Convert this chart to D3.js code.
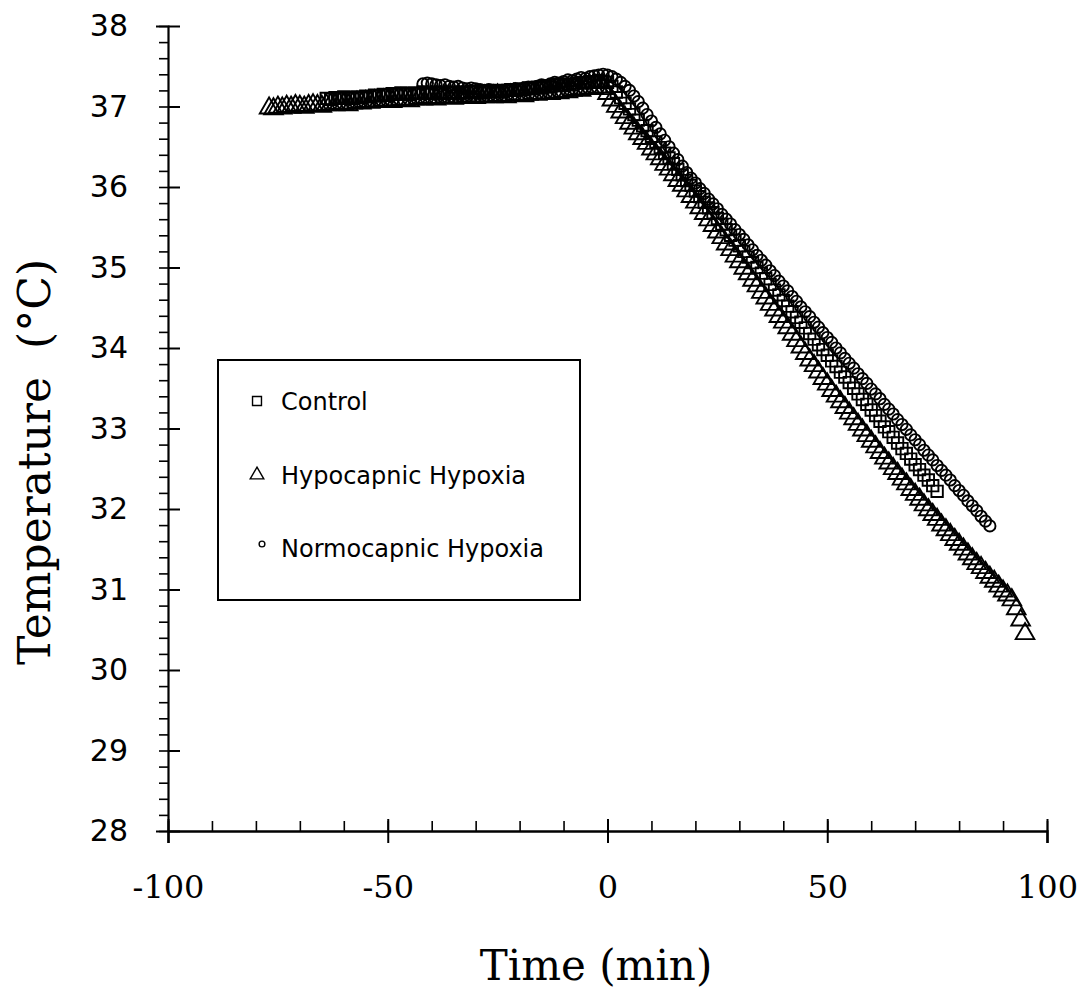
<!DOCTYPE html>
<html>
<head>
<meta charset="utf-8">
<script src="https://cdn.jsdelivr.net/npm/d3@7"></script>
<style>
    body { margin: 0; background: #fff; }
    .tick text { fill: #000; }
</style>
</head>
<body>
<div class="d3-container"></div>
<script>
// series: start minute, then one reading per minute
var controlStart = -64;
var controlTemp = [
    37.10, 37.09, 37.11, 37.10, 37.12, 37.11, 37.10, 37.12, 37.11, 37.13,
    37.12, 37.14, 37.13, 37.15, 37.14, 37.16, 37.15, 37.17, 37.16, 37.15,
    37.17, 37.16, 37.18, 37.17, 37.16, 37.18, 37.17, 37.16, 37.18, 37.17,
    37.16, 37.18, 37.17, 37.19, 37.18, 37.17, 37.19, 37.18, 37.20, 37.19,
    37.18, 37.20, 37.21, 37.20, 37.22, 37.21, 37.23, 37.22, 37.24, 37.23,
    37.25, 37.24, 37.26, 37.27, 37.26, 37.28, 37.27, 37.29, 37.30, 37.29,
    37.31, 37.30, 37.32, 37.31, 37.30, 37.25, 37.18, 37.11, 37.04, 36.97,
    36.90, 36.83, 36.76, 36.70, 36.63, 36.56, 36.49, 36.42, 36.36, 36.29,
    36.22, 36.15, 36.08, 36.02, 35.95, 35.88, 35.81, 35.74, 35.68, 35.61,
    35.54, 35.47, 35.40, 35.34, 35.27, 35.20, 35.13, 35.06, 35.00, 34.93,
    34.86, 34.79, 34.72, 34.66, 34.59, 34.52, 34.45, 34.38, 34.32, 34.25,
    34.18, 34.11, 34.04, 33.98, 33.91, 33.84, 33.77, 33.70, 33.64, 33.57,
    33.50, 33.43, 33.36, 33.30, 33.23, 33.16, 33.09, 33.02, 32.96, 32.89,
    32.82, 32.75, 32.69, 32.62, 32.55, 32.49, 32.42, 32.36, 32.29, 32.22
];

var hypocapnicStart = -77;
var hypocapnicTemp = [
    36.98, 36.97, 36.99, 36.98, 37.00, 36.99, 37.01, 37.00, 36.99, 37.01,
    37.02, 37.01, 37.00, 37.02, 37.03, 37.02, 37.04, 37.03, 37.02, 37.04,
    37.05, 37.04, 37.06, 37.05, 37.07, 37.06, 37.08, 37.07, 37.06, 37.08,
    37.09, 37.08, 37.07, 37.09, 37.10, 37.09, 37.11, 37.10, 37.09, 37.11,
    37.12, 37.11, 37.10, 37.12, 37.11, 37.13, 37.12, 37.11, 37.13, 37.12,
    37.13, 37.12, 37.14, 37.13, 37.12, 37.14, 37.15, 37.14, 37.13, 37.15,
    37.16, 37.15, 37.16, 37.17, 37.16, 37.18, 37.17, 37.19, 37.18, 37.20,
    37.21, 37.20, 37.22, 37.23, 37.22, 37.24, 37.22, 37.16, 37.08, 37.00,
    36.93, 36.86, 36.79, 36.73, 36.66, 36.60, 36.54, 36.47, 36.41, 36.35,
    36.28, 36.22, 36.15, 36.08, 36.02, 35.95, 35.88, 35.81, 35.74, 35.67,
    35.59, 35.52, 35.44, 35.37, 35.29, 35.22, 35.14, 35.07, 34.99, 34.92,
    34.84, 34.77, 34.69, 34.62, 34.54, 34.47, 34.39, 34.32, 34.25, 34.17,
    34.09, 34.01, 33.93, 33.85, 33.78, 33.70, 33.62, 33.55, 33.47, 33.40,
    33.33, 33.26, 33.19, 33.12, 33.05, 32.98, 32.91, 32.84, 32.77, 32.70,
    32.63, 32.57, 32.50, 32.44, 32.37, 32.31, 32.24, 32.18, 32.12, 32.05,
    31.99, 31.93, 31.87, 31.80, 31.74, 31.68, 31.62, 31.56, 31.50, 31.44,
    31.38, 31.32, 31.27, 31.21, 31.15, 31.10, 31.04, 30.98, 30.93, 30.87,
    30.76, 30.62, 30.45
];

var normocapnicStart = -42;
var normocapnicTemp = [
    37.28, 37.29, 37.28, 37.27, 37.26, 37.27, 37.25, 37.24, 37.25, 37.23,
    37.22, 37.23, 37.22, 37.21, 37.20, 37.21, 37.20, 37.19, 37.20, 37.21,
    37.20, 37.22, 37.21, 37.23, 37.24, 37.23, 37.25, 37.27, 37.26, 37.28,
    37.30, 37.29, 37.31, 37.33, 37.32, 37.34, 37.36, 37.35, 37.37, 37.38,
    37.39, 37.40, 37.39, 37.37, 37.34, 37.30, 37.25, 37.20, 37.13, 37.06,
    36.98, 36.90, 36.82, 36.74, 36.66, 36.58, 36.50, 36.42, 36.34, 36.26,
    36.18, 36.11, 36.05, 35.98, 35.92, 35.85, 35.79, 35.73, 35.66, 35.60,
    35.54, 35.47, 35.41, 35.35, 35.28, 35.22, 35.15, 35.09, 35.03, 34.96,
    34.90, 34.83, 34.77, 34.71, 34.64, 34.58, 34.51, 34.45, 34.39, 34.32,
    34.26, 34.19, 34.13, 34.07, 34.00, 33.94, 33.87, 33.81, 33.75, 33.68,
    33.62, 33.56, 33.49, 33.43, 33.37, 33.30, 33.24, 33.18, 33.11, 33.05,
    32.99, 32.92, 32.86, 32.80, 32.73, 32.67, 32.61, 32.54, 32.48, 32.42,
    32.36, 32.29, 32.23, 32.17, 32.10, 32.04, 31.98, 31.91, 31.85, 31.79
];

var seriesNames = ["Control", "Hypocapnic Hypoxia", "Normocapnic Hypoxia"];
var xTicks = [-100, -50, 0, 50, 100];
var yTicks = [28, 29, 30, 31, 32, 33, 34, 35, 36, 37, 38];

var width = 1080,
    height = 994;

// plot box in page pixels (not "top": that name belongs to window)
var plotLeft = 168, plotRight = 1047,
    plotTop = 26, plotBottom = 831;

var x = d3.scaleLinear().domain([-100, 100]).range([plotLeft, plotRight]);
var y = d3.scaleLinear().domain([28, 38]).range([plotBottom, plotTop]);

var svg = d3.select(".d3-container").append("svg")
    .attr("width", width)
    .attr("height", height);

function toPoints(start, temps) {
    return temps.map(function(t, i) { return {t: start + i, v: t}; });
}

var series = [
    {name: seriesNames[0], symbol: d3.symbolSquare, size: 130, pts: toPoints(controlStart, controlTemp)},
    {name: seriesNames[1], symbol: d3.symbolTriangle, size: 150, pts: toPoints(hypocapnicStart, hypocapnicTemp)},
    {name: seriesNames[2], symbol: d3.symbolCircle, size: 100, pts: toPoints(normocapnicStart, normocapnicTemp)}
];

// markers, drawn densely so each series reads as a hatched band
series.forEach(function(s) {
    var sym = d3.symbol().type(s.symbol).size(s.size);
    svg.append("g")
        .selectAll("path")
        .data(s.pts)
        .enter().append("path")
        .attr("d", sym)
        .attr("transform", function(d) { return "translate(" + x(d.t) + "," + y(d.v) + ")"; })
        .attr("fill", "none")
        .attr("stroke", "#000")
        .attr("stroke-width", 1.9);
});

// y axis: minor ticks outside, major ticks crossing
var yMinor = d3.range(28, 38.001, 0.2).map(function(v) { return +v.toFixed(1); });
svg.append("g")
    .attr("transform", "translate(" + plotLeft + ",0)")
    .call(d3.axisLeft(y).tickValues(yMinor).tickSize(9).tickFormat(""))
    .call(function(g) { g.select(".domain").remove(); })
    .selectAll("line").attr("stroke", "#000").attr("stroke-width", 1.6);

var yAx = svg.append("g")
    .attr("transform", "translate(" + plotLeft + ",0)")
    .call(d3.axisLeft(y).tickValues(yTicks).tickSize(12).tickPadding(28))
    .style("font-family", "'DejaVu Sans', sans-serif")
    .style("font-size", "30px");
yAx.select(".domain").attr("stroke", "#000").attr("stroke-width", 2.2);
yAx.selectAll(".tick line").attr("x2", 12).attr("stroke", "#000").attr("stroke-width", 2);

// x axis: minor ticks inside, major ticks crossing
var xMinor = d3.range(-100, 100.001, 10);
svg.append("g")
    .attr("transform", "translate(0," + plotBottom + ")")
    .call(d3.axisTop(x).tickValues(xMinor).tickSize(10).tickFormat(""))
    .call(function(g) { g.select(".domain").remove(); })
    .selectAll("line").attr("stroke", "#000").attr("stroke-width", 1.6);

var xAx = svg.append("g")
    .attr("transform", "translate(0," + plotBottom + ")")
    .call(d3.axisBottom(x).tickValues(xTicks).tickSize(12).tickPadding(32)
        .tickFormat(function(d) { return String(d); }))
    .style("font-family", "'DejaVu Serif', serif")
    .style("font-size", "32px");
xAx.select(".domain").attr("stroke", "#000").attr("stroke-width", 2.4);
xAx.selectAll(".tick line").attr("y1", -12).attr("stroke", "#000").attr("stroke-width", 2);

// axis titles
svg.append("text")
    .attr("x", 596)
    .attr("y", 980)
    .attr("text-anchor", "middle")
    .style("font-family", "'DejaVu Serif', serif")
    .style("font-size", "42px")
    .text("Time (min)");

svg.append("text")
    .attr("transform", "translate(50,462) rotate(-90)")
    .attr("text-anchor", "middle")
    .style("font-family", "'DejaVu Serif', serif")
    .style("font-size", "44px")
    .style("white-space", "pre")
    .text("Temperature  (°C)");

// legend
var legend = svg.append("g");
legend.append("rect")
    .attr("x", 218).attr("y", 360)
    .attr("width", 362).attr("height", 240)
    .attr("fill", "#fff")
    .attr("stroke", "#000")
    .attr("stroke-width", 2);

var legendY = [402, 476, 549];
series.forEach(function(s, i) {
    legend.append("path")
        .attr("d", d3.symbol().type(s.symbol).size(i === 2 ? 26 : 80))
        .attr("transform", "translate(" + (i === 2 ? 262 : 257) + "," + (legendY[i] - (i === 2 ? 5 : 1)) + ")")
        .attr("fill", "none")
        .attr("stroke", "#000")
        .attr("stroke-width", 1.4);
    legend.append("text")
        .attr("x", 281)
        .attr("y", legendY[i])
        .attr("dy", "0.35em")
        .style("font-family", "'DejaVu Sans', sans-serif")
        .style("font-size", "24px")
        .text(s.name);
});
</script>
</body>
</html>
